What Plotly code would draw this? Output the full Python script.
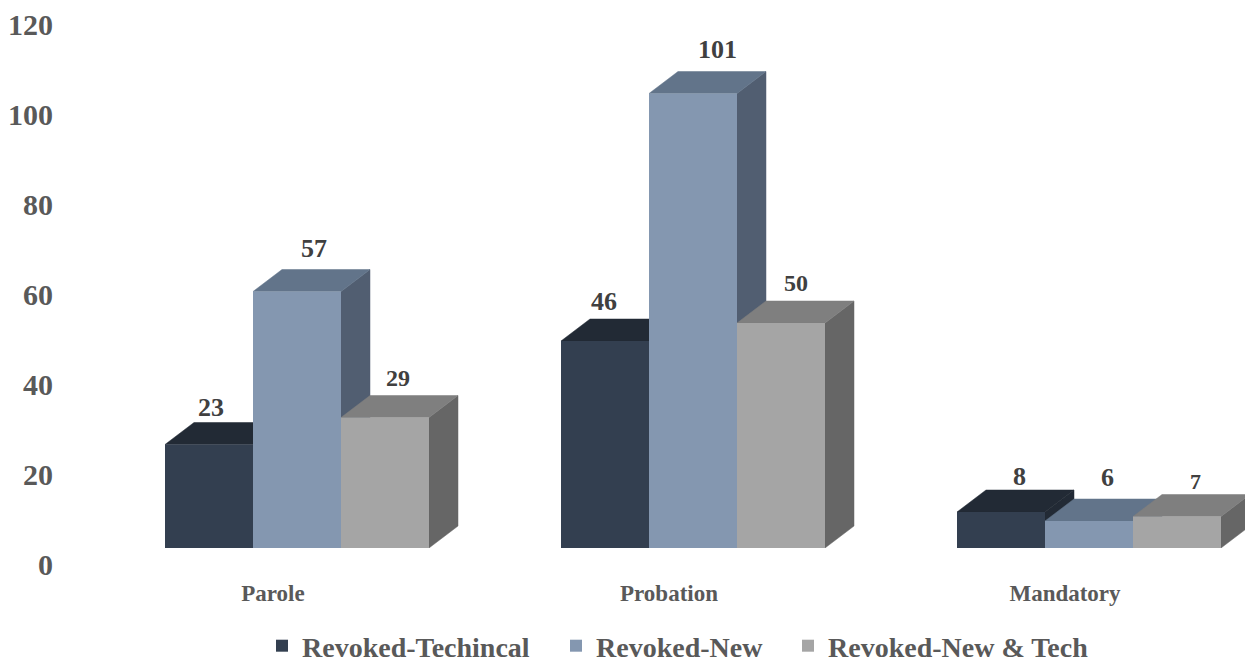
import plotly.graph_objects as go

categories = ["Parole", "Probation", "Mandatory"]
series_names = ["Revoked-Techincal", "Revoked-New", "Revoked-New & Tech"]
revoked_technical = [23, 46, 8]
revoked_new = [57, 101, 6]
revoked_new_tech = [29, 50, 7]
y_ticks = [0, 20, 40, 60, 80, 100, 120]

series_values = [revoked_technical, revoked_new, revoked_new_tech]
front_colors = ["#333f50", "#8497b0", "#a5a5a5"]
top_colors = ["#222a35", "#62748a", "#7f7f7f"]
side_colors = ["#222a35", "#515e71", "#666666"]

# label styling (pixel nudges relative to each bar's top, size)
label_dx = [[2, 17, 13], [-1, 24, 15], [18, 18, 18]]
label_dy = [[37, 43, 40], [40, 44, 40], [36, 44, 35]]
label_size = [[26, 26, 24], [26, 26, 24], [26, 26, 22]]
# left edge (px) of each separately placed legend box
legend_left = [262, 556, 788]

W, H = 1245, 664
ml, mb = 60, 116
px_per_x, px_per_y = 396.0, 4.5
x0_px = 297.0
x_range = [(ml - x0_px) / px_per_x, (W - x0_px) / px_per_x]
y_range = [0, (H - mb) / px_per_y]
bw = 88.0 / px_per_x
dx = 29.0 / px_per_x
dy = 22.0 / px_per_y

fig = go.Figure()

# depth faces, painted left to right, underneath the front faces
for j, vals in enumerate(series_values):
    sx, sy, tx, ty = [], [], [], []
    for g, v in enumerate(vals):
        l = g + (j - 1.5) * bw
        r = l + bw
        sx += [r, r + dx, r + dx, r, r, None]
        sy += [0, dy, v + dy, v, 0, None]
        tx += [l, r, r + dx, l + dx, l, None]
        ty += [v, v, v + dy, v + dy, v, None]
    for xs, ys, col in ((sx, sy, side_colors[j]), (tx, ty, top_colors[j])):
        fig.add_trace(go.Scatter(x=xs, y=ys, mode="lines", fill="toself",
                                 fillcolor=col, line=dict(width=0.5, color=col),
                                 hoverinfo="skip", showlegend=False))

legend_ids = ["legend", "legend2", "legend3"]
for j, vals in enumerate(series_values):
    fig.add_trace(go.Bar(x=list(range(len(categories))), y=vals, name=series_names[j],
                         marker=dict(color=front_colors[j], line=dict(width=0)),
                         xaxis="x2", yaxis="y2", legend=legend_ids[j]))

annotations = []
for g in range(len(categories)):
    for j, vals in enumerate(series_values):
        annotations.append(dict(
            x=g + (j - 1) * bw, y=vals[g], xref="x", yref="y", text=str(vals[g]),
            showarrow=False, xanchor="center", yanchor="middle",
            xshift=label_dx[g][j], yshift=label_dy[g][j],
            font=dict(family="Liberation Serif", size=label_size[g][j], color="#404040", weight="bold")))

legend_font = dict(family="Liberation Serif", size=28, color="#595959", weight="bold")
legend_common = dict(orientation="h", xanchor="left", xref="container", y=18 / H, yanchor="middle",
                     yref="container", itemwidth=30, font=legend_font, bgcolor="rgba(0,0,0,0)")

fig.update_layout(
    width=W, height=H, autosize=False,
    margin=dict(l=ml, r=0, t=0, b=mb),
    paper_bgcolor="white", plot_bgcolor="white",
    barmode="group", bargap=1 - 3 * bw, bargroupgap=0,
    font=dict(family="Liberation Serif", color="#595959"),
    annotations=annotations,
    xaxis=dict(range=x_range, tickmode="array", tickvals=[0, 1, 2], ticktext=categories,
               showgrid=False, zeroline=False, showline=False, ticks="",
               ticklabelshift=-24, ticklabelstandoff=29,
               tickfont=dict(family="Liberation Serif", size=23, color="#595959", weight="bold")),
    yaxis=dict(range=y_range, tickmode="array", tickvals=y_ticks,
               showgrid=False, zeroline=False, showline=False, ticks="",
               ticklabelshift=16, ticklabelstandoff=6,
               tickfont=dict(family="Liberation Serif", size=30, color="#595959", weight="bold")),
    xaxis2=dict(range=x_range, overlaying="x", visible=False),
    yaxis2=dict(range=y_range, overlaying="y", visible=False),
    legend=dict(x=legend_left[0] / W, **legend_common),
    legend2=dict(x=legend_left[1] / W, **legend_common),
    legend3=dict(x=legend_left[2] / W, **legend_common),
    showlegend=True,
)

fig.write_html("out.html", config={"displayModeBar": False},
               post_script="document.body.style.margin='0';")
